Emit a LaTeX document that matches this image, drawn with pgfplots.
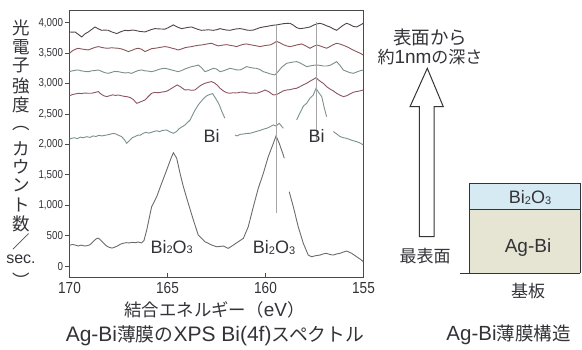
\documentclass[border=0pt]{standalone}
\usepackage{pgfplots}
\pgfplotsset{compat=1.18}
\usepackage{fontspec}
\setmainfont{Liberation Sans}
\newfontfamily\jp{Noto Sans CJK JP}
\newfontfamily\cond[FakeStretch=0.85]{Liberation Sans}
\definecolor{cA}{HTML}{514448}
\definecolor{cB}{HTML}{8A555A}
\definecolor{cC}{HTML}{7D8F86}
\definecolor{cD}{HTML}{8C5560}
\definecolor{cE}{HTML}{7A9191}
\definecolor{cF}{HTML}{6B6B6B}
\definecolor{tc}{HTML}{333338}
\definecolor{axc}{HTML}{4A4A4A}
\definecolor{blu}{HTML}{D6EAF4}
\definecolor{beige}{HTML}{E6E4D2}
\newcommand\J[1]{{\jp\fontsize{17}{20}\selectfont #1}}
\newcommand\LT[1]{{\fontsize{19}{20}\selectfont #1}}
\newcommand\sub[1]{\raisebox{-0.5pt}{\fontsize{11}{11}\selectfont #1}}
\newcommand\BiO{Bi\sub{2}O\sub{3}}
\begin{document}
\begin{tikzpicture}[x=1pt,y=1pt]
\useasboundingbox (0,0) rectangle (582,-349);
\begin{axis}[at={(69.5pt,-277pt)}, anchor=south west, scale only axis,
  width=294pt, height=267pt, x dir=reverse,
  xmin=155, xmax=170, ymin=-180, ymax=4210,
  xtick={155,160,165,170}, ytick={0,500,...,4000},
  xtick pos=bottom, ytick pos=left,
  tick align=inside, major tick length=4pt,
  ytick style={xshift=-4pt, draw=axc, line width=0.7pt},
  xtick style={draw=axc, line width=0.7pt},
  axis line style={draw=axc, line width=0.8pt},
  /pgf/number format/assume math mode=true,
  /pgf/number format/1000 sep={,},
  yticklabel style={font=\cond\fontsize{11.5}{12}\selectfont, text=tc, xshift=-3pt},
  xticklabel style={font=\cond\fontsize{16}{17}\selectfont, text=tc, yshift=-2pt},
  clip=false]
% top
\addplot[cA, line width=0.9pt] coordinates {(170.00,3849)(169.85,3845)(169.72,3849)(169.55,3810)(169.38,3767)(169.20,3820)(169.04,3849)(168.87,3890)(168.70,3931)(168.53,3900)(168.36,3876)(168.20,3880)(168.02,3876)(167.85,3850)(167.59,3822)(167.40,3850)(167.17,3876)(167.00,3870)(166.80,3880)(166.66,3876)(166.45,3860)(166.15,3849)(165.98,3870)(165.81,3890)(165.64,3904)(165.47,3900)(165.13,3895)(164.96,3920)(164.70,3965)(164.50,3930)(164.28,3904)(164.10,3915)(163.94,3925)(163.77,3931)(163.60,3910)(163.43,3890)(163.26,3876)(163.09,3880)(162.92,3885)(162.66,3876)(162.50,3885)(162.32,3904)(162.15,3890)(161.98,3880)(161.81,3876)(161.64,3890)(161.47,3900)(161.30,3904)(161.13,3895)(160.96,3880)(160.79,3876)(160.62,3880)(160.45,3900)(160.28,3920)(160.11,3931)(159.94,3940)(159.77,3950)(159.60,3960)(159.43,3965)(159.26,3975)(159.09,3985)(158.92,3990)(158.75,3992)(158.58,3960)(158.41,3920)(158.24,3904)(158.07,3910)(157.90,3920)(157.73,3931)(157.56,3960)(157.39,3980)(157.22,3992)(157.05,3975)(156.88,3950)(156.71,3931)(156.54,3900)(156.37,3876)(156.20,3920)(156.03,3960)(155.86,3992)(155.69,3970)(155.52,3940)(155.35,3931)(155.18,3960)(155.01,3992)};
% second
\addplot[cB, line width=0.9pt] coordinates {(170.00,3498)(169.85,3540)(169.70,3565)(169.55,3581)(169.40,3570)(169.20,3560)(169.04,3553)(168.87,3575)(168.70,3595)(168.53,3608)(168.35,3595)(168.20,3585)(168.02,3581)(167.85,3590)(167.70,3585)(167.51,3581)(167.35,3570)(167.17,3550)(167.00,3526)(166.83,3545)(166.65,3570)(166.49,3581)(166.32,3565)(166.15,3526)(165.98,3550)(165.81,3575)(165.64,3581)(165.47,3590)(165.30,3600)(165.13,3608)(164.96,3600)(164.80,3585)(164.62,3570)(164.45,3553)(164.28,3570)(164.11,3590)(163.94,3600)(163.77,3608)(163.60,3620)(163.43,3630)(163.26,3635)(163.09,3645)(162.92,3655)(162.75,3663)(162.55,3635)(162.40,3620)(162.15,3635)(161.98,3640)(161.81,3630)(161.64,3620)(161.47,3608)(161.30,3630)(161.13,3645)(160.96,3652)(160.79,3640)(160.62,3630)(160.45,3620)(160.28,3608)(160.11,3620)(159.94,3630)(159.77,3635)(159.60,3660)(159.43,3696)(159.26,3670)(159.09,3640)(158.92,3620)(158.75,3608)(158.58,3620)(158.41,3635)(158.15,3652)(157.95,3620)(157.73,3581)(157.56,3610)(157.39,3635)(157.22,3620)(157.05,3600)(156.88,3581)(156.71,3610)(156.54,3640)(156.37,3663)(156.20,3650)(156.03,3630)(155.86,3608)(155.69,3580)(155.52,3550)(155.35,3526)(155.18,3500)(155.01,3471)};
% third
\addplot[cC, line width=0.9pt] coordinates {(170.00,3196)(169.85,3210)(169.70,3220)(169.55,3224)(169.40,3210)(169.20,3200)(169.04,3196)(168.87,3210)(168.70,3215)(168.53,3224)(168.35,3200)(168.20,3180)(168.02,3169)(167.85,3185)(167.70,3200)(167.51,3196)(167.35,3185)(167.17,3175)(167.00,3180)(166.83,3169)(166.65,3195)(166.49,3215)(166.32,3224)(166.15,3210)(165.98,3205)(165.81,3196)(165.64,3210)(165.47,3230)(165.30,3245)(165.13,3251)(164.96,3240)(164.80,3225)(164.62,3210)(164.45,3196)(164.28,3215)(164.11,3240)(163.94,3260)(163.77,3279)(163.60,3290)(163.43,3306)(163.26,3260)(163.09,3196)(162.92,3215)(162.75,3240)(162.66,3251)(162.50,3240)(162.32,3196)(162.15,3210)(161.98,3230)(161.81,3251)(161.64,3240)(161.47,3225)(161.30,3224)(161.13,3250)(160.96,3279)(160.79,3265)(160.62,3255)(160.45,3251)(160.28,3230)(160.11,3196)(159.94,3180)(159.77,3160)(159.52,3142)(159.35,3200)(159.17,3270)(158.92,3334)(158.75,3345)(158.58,3355)(158.41,3361)(158.24,3340)(158.07,3310)(157.90,3279)(157.73,3290)(157.56,3300)(157.39,3306)(157.22,3300)(157.05,3290)(156.88,3290)(156.71,3300)(156.54,3330)(156.37,3361)(156.20,3300)(156.03,3224)(155.86,3200)(155.69,3180)(155.52,3169)(155.35,3190)(155.18,3210)(155.01,3224)};
% fourth
\addplot[cD, line width=0.9pt] coordinates {(170.00,2800)(169.85,2820)(169.70,2830)(169.55,2841)(169.40,2835)(169.25,2845)(169.04,2841)(168.87,2841)(168.70,2855)(168.53,2868)(168.40,2830)(168.25,2800)(168.10,2786)(167.95,2800)(167.80,2815)(167.65,2805)(167.51,2813)(167.35,2800)(167.20,2790)(167.08,2786)(166.90,2770)(166.75,2740)(166.57,2676)(166.45,2690)(166.30,2710)(166.15,2731)(166.00,2780)(165.81,2841)(165.65,2855)(165.47,2850)(165.30,2860)(165.13,2868)(165.00,2880)(164.80,2920)(164.60,2960)(164.50,2978)(164.35,2950)(164.11,2895)(163.95,2900)(163.77,2890)(163.60,2895)(163.43,2940)(163.26,2980)(163.09,3005)(162.92,3020)(162.75,3033)(162.60,3010)(162.45,2970)(162.32,2923)(162.15,2880)(161.98,2850)(161.81,2841)(161.65,2850)(161.47,2845)(161.30,2858)(161.13,2860)(160.96,2850)(160.79,2840)(160.62,2845)(160.45,2841)(160.28,2860)(160.11,2880)(160.03,2895)(159.85,2870)(159.60,2813)(159.43,2820)(159.26,2850)(159.09,2880)(158.92,2895)(158.75,2900)(158.58,2915)(158.41,2923)(158.24,2950)(158.07,2980)(157.90,3005)(157.73,3040)(157.56,3070)(157.42,3098)(157.30,3060)(157.13,3020)(157.05,3005)(156.88,2950)(156.71,2910)(156.54,2880)(156.37,2840)(156.20,2810)(156.03,2786)(155.86,2800)(155.69,2830)(155.52,2858)(155.35,2870)(155.18,2880)(155.01,2895)};
% fifth (segments)
\addplot[cE, line width=0.9pt] coordinates {(170.00,2090)(169.89,2100)(169.75,2110)(169.60,2095)(169.45,2120)(169.30,2110)(169.12,2127)(168.95,2115)(168.80,2140)(168.65,2130)(168.50,2150)(168.35,2140)(168.10,2155)(167.95,2165)(167.80,2180)(167.65,2175)(167.50,2150)(167.35,2130)(167.20,2080)(167.08,2018)(166.95,2060)(166.80,2110)(166.65,2130)(166.50,2155)(166.40,2150)(166.25,2180)(166.10,2200)(165.95,2185)(165.72,2210)(165.55,2225)(165.40,2210)(165.25,2230)(165.04,2237)(164.90,2210)(164.70,2183)(164.55,2210)(164.40,2260)(164.19,2303)(164.10,2320)(163.85,2400)(163.60,2560)(163.43,2650)(163.20,2740)(163.00,2800)(162.85,2820)(162.70,2835)(162.55,2760)(162.40,2680)(162.32,2620)(162.20,2520)(162.07,2430)};
\addplot[cE, line width=0.9pt] coordinates {(161.56,2155)(161.45,2140)(161.30,2165)(161.15,2170)(160.96,2180)(160.79,2183)(160.60,2200)(160.45,2215)(160.28,2230)(160.11,2250)(159.94,2265)(159.77,2290)(159.60,2320)(159.46,2303)(159.30,2347)(159.09,2265)};
\addplot[cE, line width=0.9pt] coordinates {(158.41,2402)(158.24,2520)(158.07,2630)(157.90,2676)(157.73,2760)(157.56,2813)(157.42,2923)(157.30,2860)(157.13,2786)(157.00,2600)(156.88,2456)};
\addplot[cE, line width=0.9pt] coordinates {(156.54,2210)(156.40,2180)(156.20,2130)(156.03,2110)(155.86,2100)(155.70,2080)(155.52,2060)(155.35,2045)(155.15,2020)(155.01,1990)};
% bottom
\addplot[cF, line width=0.9pt] coordinates {(170.00,340)(169.85,355)(169.70,345)(169.55,330)(169.40,345)(169.25,330)(169.10,335)(168.95,350)(168.80,400)(168.65,445)(168.55,460)(168.45,440)(168.30,390)(168.15,340)(168.00,310)(167.83,296)(167.70,310)(167.55,330)(167.40,360)(167.25,375)(167.10,385)(166.95,380)(166.80,390)(166.65,385)(166.50,395)(166.32,380)(166.20,420)(166.06,592)(165.81,975)(165.55,1140)(165.30,1360)(165.04,1580)(164.82,1772)(164.70,1864)(164.53,1772)(164.36,1525)(164.19,1305)(163.94,1031)(163.68,757)(163.43,510)(163.09,400)(162.74,345)(162.49,317)(162.15,329)(161.90,291)(161.64,345)(161.39,400)(161.13,455)(160.88,646)(160.62,975)(160.37,1278)(160.11,1525)(159.86,1798)(159.60,2018)(159.46,2140)(159.30,2018)(159.12,1854)(159.04,1772)};
\addplot[cF, line width=0.9pt] coordinates {(158.79,1222)(158.58,975)(158.33,646)(158.07,373)(157.82,181)(157.64,153)(157.45,170)(157.22,181)(157.05,200)(156.88,209)(156.71,190)(156.54,181)(156.37,200)(156.20,209)(156.03,230)(155.86,247)(155.60,209)(155.35,153)(155.15,110)(155.01,71)};
% vertical markers
\addplot[gray!70, line width=0.5pt] coordinates {(159.46,872)(159.46,3965)};
\addplot[gray!70, line width=0.5pt] coordinates {(157.39,2073)(157.39,4019)};
\end{axis}
% in-plot labels
\node[text=tc, font=\fontsize{18}{18}\selectfont] at (211.7,-136) {Bi};
\node[text=tc, font=\fontsize{18}{18}\selectfont] at (316.7,-136) {Bi};
\node[text=tc, font=\fontsize{18}{18}\selectfont] at (171.7,-247) {\BiO};
\node[text=tc, font=\fontsize{18}{18}\selectfont] at (274,-247.5) {\BiO};
% axis labels
\node[text=tc] at (214.5,-310) {{\jp\fontsize{17.4}{20}\selectfont 結合エネルギー（}\LT{eV}{\jp\fontsize{17.4}{20}\selectfont ）}};
\node[text=tc] at (215,-336) {{\fontsize{21}{22}\selectfont Ag-Bi}{\jp\fontsize{18.8}{22}\selectfont 薄膜の}{\fontsize{21}{22}\selectfont XPS Bi(4f)}{\jp\fontsize{18.8}{22}\selectfont スペクトル}};
% y label (vertical)
\begin{scope}[every node/.style={text=tc, font=\jp\fontsize{17.5}{17.5}\selectfont, inner sep=0pt}]
\node at (21,-27.5) {光};
\node at (21,-47.5) {電};
\node at (21,-65.5) {子};
\node at (21,-86) {強};
\node at (21,-104.5) {度};
\node at (21,-128.5) {︵};
\node at (21,-148.5) {カ};
\node at (21,-166.5) {ウ};
\node at (21,-185) {ン};
\node at (21,-205) {ト};
\node at (21,-224) {数};
\node at (21,-241.5) {／};
\node[font=\fontsize{16}{16}\selectfont] at (21,-259.5) {sec.};
\node at (21,-280) {︶};
\end{scope}
% right side
\node[text=tc] at (430,-37.5) {{\jp\fontsize{18.5}{20}\selectfont 表面から}};
\node[text=tc] at (430,-56.7) {\J{約}\LT{1nm}\J{の深さ}};
\draw[tc, line width=1pt, line join=miter] (419.3,-236.7) -- (419.3,-106.7) -- (410,-106.7) -- (427.3,-68.3) -- (443.3,-106.7) -- (434,-106.7) -- (434,-236.7) -- cycle;
\node[text=tc] at (425,-256) {\J{最表面}};
\fill[blu] (469,-183.3) rectangle (580,-209);
\fill[beige] (469,-209) rectangle (580,-273.3);
\draw[tc, line width=1pt] (469,-273.3) -- (469,-183.3) -- (580,-183.3) -- (580,-273.3);
\draw[tc, line width=1pt] (469,-209) -- (580,-209);
\draw[tc, line width=1pt] (460,-273.3) -- (580,-273.3);
\node[text=tc, font=\fontsize{18}{18}\selectfont] at (530,-197.5) {\BiO};
\node[text=tc] at (528,-248) {\LT{Ag-Bi}};
\node[text=tc] at (528,-291) {\J{基板}};
\node[text=tc] at (508.5,-335) {{\fontsize{20.5}{22}\selectfont Ag-Bi}{\jp\fontsize{18.5}{22}\selectfont 薄膜構造}};
\end{tikzpicture}
\end{document}
